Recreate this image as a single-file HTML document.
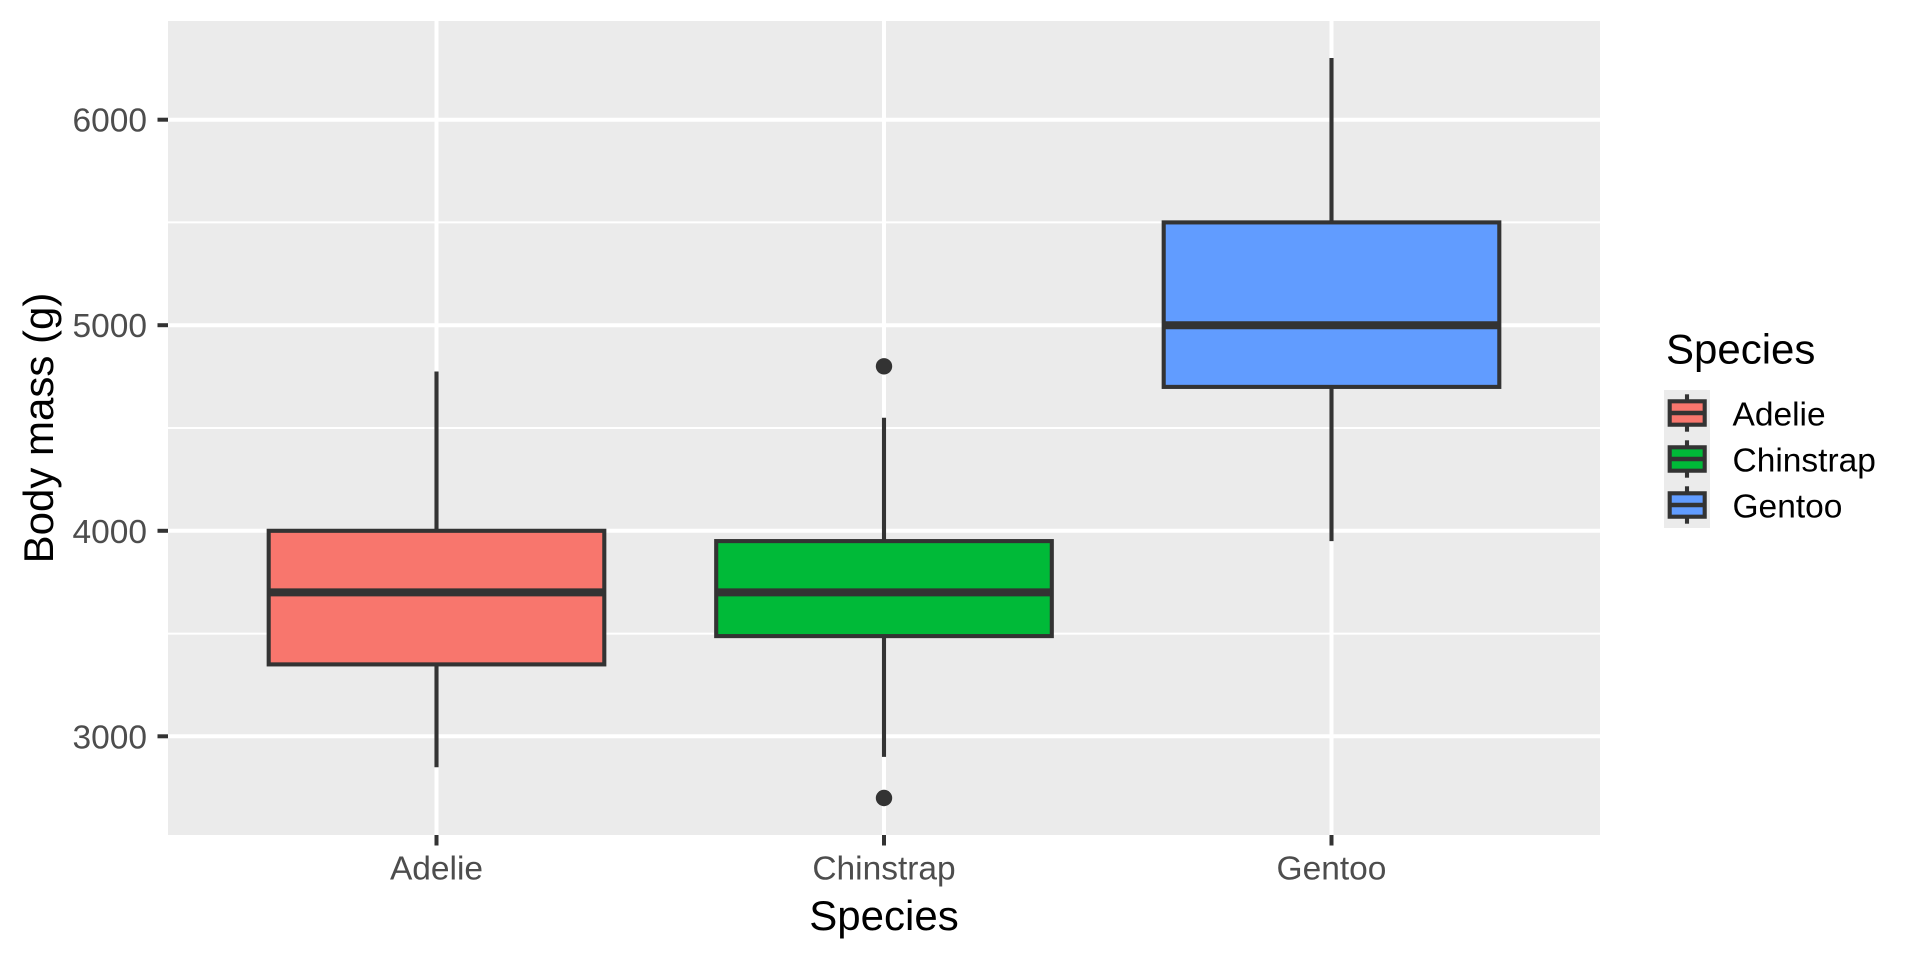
<!DOCTYPE html>
<html>
<head>
<meta charset="utf-8">
<style>
html,body{margin:0;padding:0;background:#fff;}
svg{display:block;}
text{font-family:"Liberation Sans",Arial,sans-serif;}
</style>
</head>
<body>
<svg width="1920" height="960" viewBox="0 0 1920 960" xmlns="http://www.w3.org/2000/svg">
<rect x="0" y="0" width="1920" height="960" fill="#ffffff"/>
<!-- panel -->
<rect x="168" y="21" width="1432" height="814" fill="#EBEBEB"/>
<!-- minor gridlines -->
<g stroke="#ffffff" stroke-width="2">
<line x1="168" x2="1600" y1="633.6" y2="633.6"/>
<line x1="168" x2="1600" y1="428.0" y2="428.0"/>
<line x1="168" x2="1600" y1="222.4" y2="222.4"/>
</g>
<!-- major gridlines -->
<g stroke="#ffffff" stroke-width="4">
<line x1="168" x2="1600" y1="736.3" y2="736.3"/>
<line x1="168" x2="1600" y1="530.8" y2="530.8"/>
<line x1="168" x2="1600" y1="325.2" y2="325.2"/>
<line x1="168" x2="1600" y1="119.7" y2="119.7"/>
<line x1="436.5" x2="436.5" y1="21" y2="835"/>
<line x1="884" x2="884" y1="21" y2="835"/>
<line x1="1331.5" x2="1331.5" y1="21" y2="835"/>
</g>

<!-- Adelie -->
<g stroke="#333333" stroke-width="4.1">
<line x1="436.5" x2="436.5" y1="371.5" y2="530.8"/>
<line x1="436.5" x2="436.5" y1="664.4" y2="767.2"/>
<rect x="268.7" y="530.8" width="335.6" height="133.6" fill="#F8766D"/>
<line x1="268.7" x2="604.3" y1="592.4" y2="592.4" stroke-width="8"/>
</g>
<!-- Chinstrap -->
<g stroke="#333333" stroke-width="4.1">
<line x1="884" x2="884" y1="417.7" y2="541.1"/>
<line x1="884" x2="884" y1="636.1" y2="756.9"/>
<rect x="716.2" y="541.1" width="335.6" height="95.0" fill="#00BA38"/>
<line x1="716.2" x2="1051.8" y1="592.4" y2="592.4" stroke-width="8"/>
</g>
<circle cx="884" cy="366.3" r="8.2" fill="#333333"/>
<circle cx="884" cy="798.0" r="8.2" fill="#333333"/>
<!-- Gentoo -->
<g stroke="#333333" stroke-width="4.1">
<line x1="1331.5" x2="1331.5" y1="58.0" y2="222.4"/>
<line x1="1331.5" x2="1331.5" y1="386.9" y2="541.1"/>
<rect x="1163.7" y="222.4" width="335.6" height="164.5" fill="#619CFF"/>
<line x1="1163.7" x2="1499.3" y1="325.2" y2="325.2" stroke-width="8"/>
</g>

<!-- axis ticks -->
<g stroke="#333333" stroke-width="4">
<line x1="157.5" x2="168" y1="736.3" y2="736.3"/>
<line x1="157.5" x2="168" y1="530.8" y2="530.8"/>
<line x1="157.5" x2="168" y1="325.2" y2="325.2"/>
<line x1="157.5" x2="168" y1="119.7" y2="119.7"/>
<line x1="436.5" x2="436.5" y1="835" y2="845.5"/>
<line x1="884" x2="884" y1="835" y2="845.5"/>
<line x1="1331.5" x2="1331.5" y1="835" y2="845.5"/>
</g>

<!-- y tick labels -->
<g fill="#4D4D4D" font-size="33.5" text-anchor="end">
<text x="147" y="748.3">3000</text>
<text x="147" y="542.8">4000</text>
<text x="147" y="337.2">5000</text>
<text x="147" y="131.7">6000</text>
</g>
<!-- x tick labels -->
<g fill="#4D4D4D" font-size="33.5" text-anchor="middle">
<text x="436.5" y="879.3">Adelie</text>
<text x="884" y="879.3">Chinstrap</text>
<text x="1331.5" y="879.3">Gentoo</text>
</g>

<!-- axis titles -->
<text x="884" y="930" font-size="42" text-anchor="middle" fill="#000000">Species</text>
<text transform="translate(53,428) rotate(-90)" x="0" y="0" font-size="42" text-anchor="middle" fill="#000000">Body mass (g)</text>

<!-- legend -->
<text x="1666" y="363.3" font-size="42" fill="#000000">Species</text>
<rect x="1664" y="390" width="46" height="138" fill="#EBEBEB"/>
<g stroke="#333333" stroke-width="4.1">
<line x1="1687" x2="1687" y1="394.3" y2="431.7"/>
<rect x="1669.7" y="401.3" width="35" height="23.4" fill="#F8766D"/>
<line x1="1669.7" x2="1704.7" y1="413" y2="413" stroke-width="4.5"/>

<line x1="1687" x2="1687" y1="440.3" y2="477.7"/>
<rect x="1669.7" y="447.3" width="35" height="23.4" fill="#00BA38"/>
<line x1="1669.7" x2="1704.7" y1="459" y2="459" stroke-width="4.5"/>

<line x1="1687" x2="1687" y1="486.3" y2="523.7"/>
<rect x="1669.7" y="493.3" width="35" height="23.4" fill="#619CFF"/>
<line x1="1669.7" x2="1704.7" y1="505" y2="505" stroke-width="4.5"/>
</g>
<g fill="#000000" font-size="33.5">
<text x="1732.5" y="425.3">Adelie</text>
<text x="1732.5" y="471.3">Chinstrap</text>
<text x="1732.5" y="517.3">Gentoo</text>
</g>
</svg>
</body>
</html>
